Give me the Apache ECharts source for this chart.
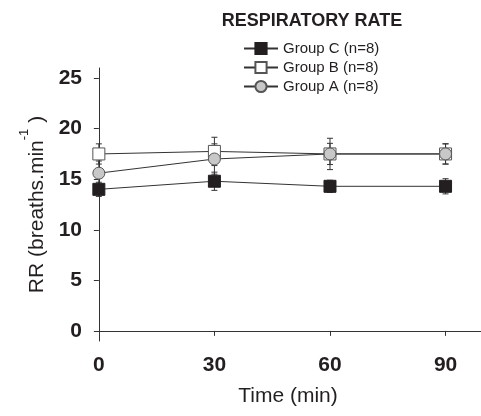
<!DOCTYPE html>
<html>
<head>
<meta charset="utf-8">
<script src="https://cdn.jsdelivr.net/npm/echarts@6/dist/echarts.min.js"></script>
<style>html,body{margin:0;padding:0;background:#fff;}#c{width:481px;height:416px;}</style>
</head>
<body>
<div id="c"></div>
<script>
const times = [0, 30, 60, 90];
const xTicks = [0, 30, 60, 90];
const yTicks = [0, 5, 10, 15, 20, 25];
const groupC = [14.0, 14.8, 14.3, 14.3];
const errC = [0.7, 0.9, 0.6, 0.75];
const groupB = [17.5, 17.75, 17.5, 17.5];
const errB = [1.0, 1.4, 1.55, 1.0];
const groupA = [15.6, 17.0, 17.5, 17.5];
const errA = [1.2, 1.5, 1.05, 1.0];
const names = ['Group C (n=8)', 'Group B (n=8)', 'Group A (n=8)'];

const font = '"Liberation Sans", Arial, sans-serif';
const ink = '#231f20';

function errSeries(vals, errs, z) {
  return {
    type: 'custom',
    silent: true,
    z: z,
    data: times.map((t, i) => [t, vals[i], errs[i]]),
    renderItem: function (params, api) {
      const x = api.value(0), y = api.value(1), e = api.value(2);
      const top = api.coord([x, y + e]);
      const bot = api.coord([x, y - e]);
      const w = 3;
      const st = { stroke: '#333', lineWidth: 1 };
      return {
        type: 'group',
        children: [
          { type: 'line', shape: { x1: top[0], y1: top[1], x2: bot[0], y2: bot[1] }, style: st },
          { type: 'line', shape: { x1: top[0] - w, y1: top[1], x2: top[0] + w, y2: top[1] }, style: st },
          { type: 'line', shape: { x1: bot[0] - w, y1: bot[1], x2: bot[0] + w, y2: bot[1] }, style: st }
        ]
      };
    }
  };
}

function lineSeries(name, vals, symbol, fill, border, z) {
  return {
    type: 'line',
    name: name,
    z: z,
    data: times.map((t, i) => [t, vals[i]]),
    symbol: symbol,
    symbolSize: 12,
    showAllSymbol: true,
    lineStyle: { color: '#333', width: 1 },
    itemStyle: { color: fill, borderColor: border, borderWidth: 1 },
    emphasis: { disabled: true },
    animation: false
  };
}

const chart = echarts.init(document.getElementById('c'));
chart.setOption({
  animation: false,
  backgroundColor: '#fff',
  title: {
    text: 'RESPIRATORY RATE',
    left: 307,
    textAlign: 'center',
    top: 7,
    textStyle: { fontFamily: font, fontSize: 18, fontWeight: 'bold', color: ink }
  },
  legend: {
    orient: 'vertical',
    left: 238,
    top: 36,
    itemWidth: 34,
    itemHeight: 14,
    itemGap: 4,
    data: names,
    textStyle: { fontFamily: font, fontSize: 15, color: ink },
    selectedMode: false
  },
  grid: { left: 95, right: 0, top: 68, bottom: 75, containLabel: false },
  xAxis: {
    type: 'value',
    min: -1,
    max: 99.2,
    name: 'Time (min)',
    nameLocation: 'middle',
    nameGap: 45,
    nameTextStyle: { fontFamily: font, fontSize: 21, color: ink },
    axisLine: { lineStyle: { color: '#333', width: 1 } },
    axisTick: { show: true, inside: false, length: 5, customValues: xTicks, lineStyle: { color: '#333' } },
    axisLabel: { customValues: xTicks, margin: 14, fontFamily: font, fontSize: 21, fontWeight: 'bold', color: ink },
    splitLine: { show: false }
  },
  yAxis: {
    type: 'value',
    min: -1,
    max: 26,
    name: 'RR (breaths.min{sup|-1} )',
    nameLocation: 'middle',
    nameGap: 37,
    nameTextStyle: {
      fontFamily: font, fontSize: 21, color: ink, verticalAlign: 'bottom',
      rich: {
        sup: { fontFamily: font, fontSize: 13, color: ink, verticalAlign: 'top', lineHeight: 38 }
      }
    },
    axisLine: { show: true, lineStyle: { color: '#333', width: 1 } },
    axisTick: { show: true, inside: false, length: 5, customValues: yTicks, lineStyle: { color: '#333' } },
    axisLabel: { customValues: yTicks, margin: 13, fontFamily: font, fontSize: 21, fontWeight: 'bold', color: ink },
    splitLine: { show: false }
  },
  series: [
    errSeries(groupC, errC, 1),
    errSeries(groupB, errB, 1),
    errSeries(groupA, errA, 1),
    lineSeries(names[0], groupC, 'rect', ink, ink, 3),
    lineSeries(names[1], groupB, 'rect', '#ffffff', '#555', 3),
    lineSeries(names[2], groupA, 'circle', '#c8c8c8', '#555', 4)
  ]
});
</script>
</body>
</html>
